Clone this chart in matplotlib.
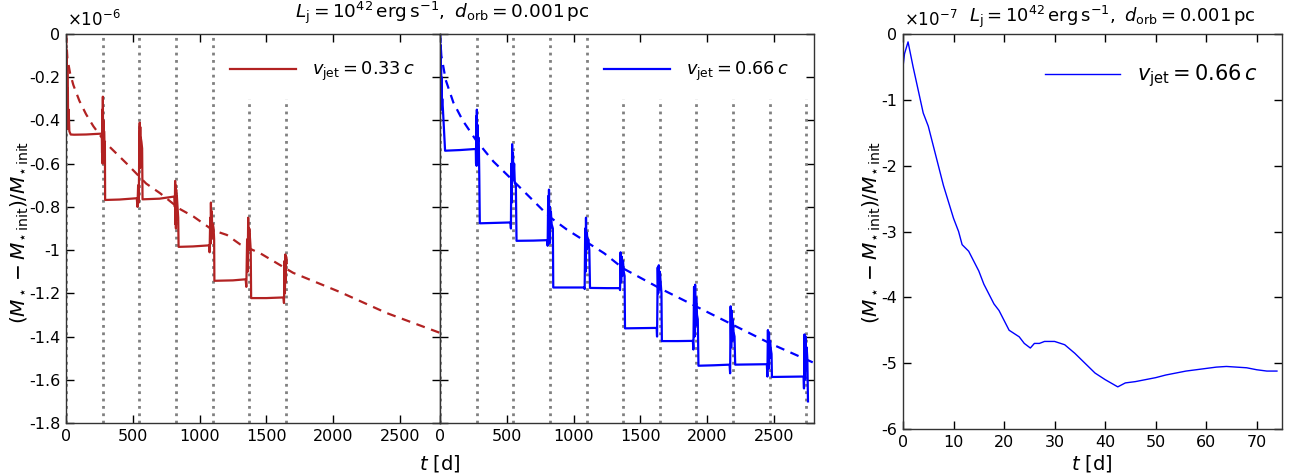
import matplotlib
matplotlib.use("Agg")
import matplotlib.pyplot as plt
from matplotlib.ticker import FuncFormatter

plt.rcParams['axes.unicode_minus'] = False
plt.rcParams['mathtext.fontset'] = 'dejavusans'
plt.rcParams['font.family'] = ['DejaVu Sans']

# ---------------- data (mass change in units of 1e-6, right panel 1e-7) ----------------
t_red = [0, 2, 4, 6, 8, 10, 12, 14, 16, 20, 25, 35, 60, 150, 268,
         270, 272, 274, 276, 278, 280, 282, 285, 288, 291, 293, 400, 530,
         535, 540, 545, 548, 550, 552, 554, 556, 558, 560, 565, 570, 573, 700, 812,
         815, 817, 819, 821, 823, 825, 827, 830, 835, 840, 843, 950, 1072,
         1075, 1080, 1083, 1085, 1088, 1091, 1095, 1100, 1105, 1109, 1111, 1250, 1345,
         1350, 1356, 1360, 1364, 1368, 1372, 1378, 1383, 1386, 1500, 1628,
         1632, 1636, 1639, 1642, 1645, 1648, 1652]
v_red = [0, -0.05, -0.30, -0.08, -0.40, -0.15, -0.44, -0.25, -0.43, -0.35, -0.45, -0.465, -0.466, -0.465, -0.461,
         -0.55, -0.35, -0.60, -0.29, -0.58, -0.40, -0.55, -0.45, -0.50, -0.50, -0.768, -0.766, -0.76,
         -0.80, -0.70, -0.78, -0.55, -0.45, -0.41, -0.62, -0.43, -0.58, -0.48, -0.50, -0.53, -0.765, -0.762, -0.752,
         -0.80, -0.68, -0.88, -0.70, -0.90, -0.72, -0.86, -0.75, -0.80, -0.85, -0.985, -0.983, -0.978,
         -1.01, -0.85, -0.97, -0.78, -0.95, -0.82, -0.90, -0.88, -0.90, -0.95, -1.142, -1.14, -1.135,
         -1.17, -0.95, -1.10, -0.85, -1.00, -0.90, -0.95, -1.00, -1.222, -1.222, -1.219,
         -1.245, -1.05, -1.20, -1.02, -1.15, -1.03, -1.06]

t_red_fit = [0, 10, 30, 55, 100, 150, 205, 300, 455, 600, 705, 850, 955, 1100, 1205,
             1305, 1455, 1700, 2055, 2400, 2800]
v_red_fit = [0, -0.110, -0.180, -0.236, -0.309, -0.371, -0.427, -0.506, -0.600, -0.692, -0.737,
             -0.809, -0.845, -0.908, -0.93, -0.974, -1.015, -1.105, -1.195, -1.291, -1.383]

t_blue = [0, 1, 2, 3, 4, 5, 6, 8, 10, 12, 14, 17, 22, 30, 38, 150, 268,
          270, 272, 274, 276, 278, 280, 284, 290, 294, 298, 400, 528,
          531, 534, 537, 540, 543, 546, 550, 555, 560, 568, 573, 700, 803,
          806, 810, 813, 816, 819, 822, 826, 830, 836, 845, 848, 960, 1080,
          1083, 1087, 1090, 1093, 1096, 1100, 1105, 1110, 1118, 1123, 1250, 1345,
          1348, 1352, 1356, 1360, 1365, 1370, 1376, 1382, 1385, 1500, 1622,
          1625, 1630, 1634, 1638, 1642, 1646, 1652, 1658, 1661, 1780, 1893,
          1897, 1902, 1906, 1910, 1914, 1918, 1924, 1930, 1935, 2050, 2168,
          2172, 2176, 2180, 2184, 2188, 2192, 2198, 2205, 2210, 2330, 2447,
          2451, 2455, 2459, 2463, 2467, 2471, 2477, 2482, 2485, 2600, 2722,
          2725, 2729, 2733, 2737, 2741, 2745, 2750, 2755]
v_blue = [0, -0.05, -0.28, -0.05, -0.33, -0.10, -0.30, -0.15, -0.35, -0.20, -0.33, -0.30, -0.35, -0.45, -0.54, -0.537, -0.532,
          -0.60, -0.38, -0.61, -0.35, -0.55, -0.42, -0.50, -0.48, -0.65, -0.876, -0.874, -0.872,
          -0.90, -0.60, -0.78, -0.51, -0.68, -0.55, -0.66, -0.60, -0.69, -0.70, -0.957, -0.956, -0.954,
          -0.98, -0.75, -0.94, -0.72, -0.97, -0.80, -0.90, -0.82, -0.88, -0.90, -1.173, -1.173, -1.173,
          -1.18, -0.90, -1.10, -0.85, -1.00, -0.92, -0.98, -0.95, -1.00, -1.175, -1.176, -1.176,
          -1.185, -1.01, -1.15, -1.03, -1.12, -1.05, -1.10, -1.12, -1.362, -1.361, -1.36,
          -1.40, -1.08, -1.20, -1.07, -1.18, -1.10, -1.15, -1.20, -1.421, -1.421, -1.42,
          -1.46, -1.17, -1.40, -1.16, -1.35, -1.22, -1.30, -1.32, -1.535, -1.533, -1.53,
          -1.57, -1.26, -1.45, -1.28, -1.42, -1.32, -1.38, -1.40, -1.53, -1.529, -1.528,
          -1.585, -1.37, -1.55, -1.38, -1.50, -1.42, -1.46, -1.48, -1.587, -1.586, -1.585,
          -1.64, -1.39, -1.60, -1.40, -1.55, -1.45, -1.50, -1.70]

t_blue_fit = [0, 10, 43, 100, 170, 268, 400, 543, 680, 818, 950, 1093, 1230, 1372,
              1647, 1922, 2197, 2472, 2800]
v_blue_fit = [0, -0.10, -0.213, -0.317, -0.40, -0.49, -0.59, -0.676, -0.76, -0.845, -0.905,
              -0.961, -1.015, -1.085, -1.177, -1.262, -1.347, -1.432, -1.522]

t_right = [0, 0.3, 1, 2, 3, 4, 5, 6, 7, 8, 9, 10, 11, 11.7, 13, 14, 15, 16, 17, 18, 19, 20,
           21, 22, 23, 24, 25.2, 26, 27, 28, 30, 32, 34, 36, 38, 40, 42.5, 44, 46, 48, 50,
           52, 54, 56, 58, 60, 62, 64, 66, 68, 70, 72, 74]
v_right = [-0.5, -0.3, -0.12, -0.5, -0.85, -1.2, -1.4, -1.7, -2.0, -2.3, -2.55, -2.8, -3.0, -3.2,
           -3.3, -3.45, -3.6, -3.8, -3.95, -4.1, -4.2, -4.35, -4.5, -4.55, -4.6, -4.7, -4.77,
           -4.7, -4.7, -4.67, -4.67, -4.72, -4.85, -5.0, -5.15, -5.25, -5.36, -5.3, -5.28,
           -5.25, -5.22, -5.18, -5.15, -5.12, -5.1, -5.08, -5.06, -5.05, -5.06, -5.07, -5.1,
           -5.12, -5.12]

orbit_times = [0, 276, 550, 824, 1098, 1372, 1646, 1920, 2194, 2468, 2742]
orbit_tops = [0, 0, 0, 0, 0, -0.3, -0.3, -0.3, -0.3, -0.3, -0.3]
n_orbits_red = 7

title_txt = r'$L_\mathrm{j}=10^{42}\,\mathrm{erg\,s^{-1}},\ d_\mathrm{orb}=0.001\,\mathrm{pc}$'
ylabel_txt = r'$(M_\star-M_{\star\,\mathrm{init}})/M_{\star\,\mathrm{init}}$'

W, H = 1293, 475
fig = plt.figure(figsize=(W / 100, H / 100), dpi=100)

def box(x0, x1, ytop, ybot):
    return [x0 / W, 1 - ybot / H, (x1 - x0) / W, (ybot - ytop) / H]

ax1 = fig.add_axes(box(66, 440, 34, 423))
ax2 = fig.add_axes(box(440, 814, 34, 423))
ax3 = fig.add_axes(box(903, 1282, 34, 429))

fmt = FuncFormatter(lambda v, p: '%g' % v if abs(v) > 1e-12 else '0')

for ax, n, col, t, v, tf, vf, lab in [
        (ax1, n_orbits_red, 'firebrick', t_red, v_red, t_red_fit, v_red_fit, r'$v_\mathrm{jet}=0.33\,c$'),
        (ax2, len(orbit_times), 'blue', t_blue, v_blue, t_blue_fit, v_blue_fit, r'$v_\mathrm{jet}=0.66\,c$')]:
    ax.vlines(orbit_times[:n], -1.8, orbit_tops[:n], colors='gray', linestyles=':', linewidth=2)
    ax.plot(t, v, color=col, lw=1.6, label=lab)
    ax.plot(tf, vf, color=col, lw=1.6, ls=(0, (4, 3)))
    ax.set_xlim(0, 2800)
    ax.set_ylim(-1.8, 0)
    ax.set_xticks([0, 500, 1000, 1500, 2000, 2500])
    ax.set_yticks([0, -0.2, -0.4, -0.6, -0.8, -1.0, -1.2, -1.4, -1.6, -1.8])
    ax.yaxis.set_major_formatter(fmt)
    ax.legend(loc='upper right', bbox_to_anchor=(0.975, 0.975), frameon=False,
              fontsize=12.8, handlelength=3.7, handletextpad=0.9)

ax2.set_yticklabels([])

ax3.plot(t_right, v_right, color='blue', lw=1.0, label=r'$v_\mathrm{jet}=0.66\,c$')
ax3.set_xlim(0, 75)
ax3.set_ylim(-6, 0)
ax3.set_xticks([0, 10, 20, 30, 40, 50, 60, 70])
ax3.set_yticks([0, -1, -2, -3, -4, -5, -6])
ax3.yaxis.set_major_formatter(fmt)
ax3.legend(loc='upper right', bbox_to_anchor=(0.985, 0.975), frameon=False,
           fontsize=15, handlelength=3.6, handletextpad=0.8)

for ax in (ax1, ax2, ax3):
    ax.tick_params(direction='in', top=True, right=True, length=6, width=1,
                   labelsize=11.5, pad=4)
    for s in ax.spines.values():
        s.set_linewidth(1.0)
        s.set_color('#333333')

fig.text(67 / W, 1 - 20 / H, r'$\times10^{-6}$', fontsize=12, va='center', ha='left')
fig.text(904 / W, 1 - 20 / H, r'$\times10^{-7}$', fontsize=12, va='center', ha='left')
fig.text(442 / W, 1 - 13 / H, title_txt, fontsize=13.3, ha='center', va='center')
fig.text(1112 / W, 1 - 17 / H, title_txt, fontsize=13, ha='center', va='center')
fig.text(440 / W, 1 - 463 / H, r'$t$ [d]', fontsize=14, ha='center', va='center')
fig.text(1092 / W, 1 - 463 / H, r'$t$ [d]', fontsize=14, ha='center', va='center')
fig.text(20 / W, 1 - 232 / H, ylabel_txt, fontsize=14.5, rotation=90, ha='center', va='center')
fig.text(872 / W, 1 - 232 / H, ylabel_txt, fontsize=14.5, rotation=90, ha='center', va='center')

fig.savefig('out.png', dpi=100)
